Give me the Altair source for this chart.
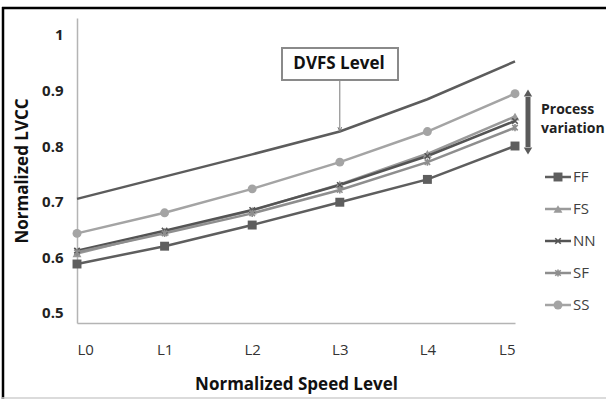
import altair as alt
import pandas as pd

levels = ["L0", "L1", "L2", "L3", "L4", "L5"]
series_names = ["FF", "FS", "NN", "SF", "SS"]
FF = [0.588, 0.620, 0.658, 0.699, 0.740, 0.800]
FS = [0.607, 0.646, 0.684, 0.731, 0.786, 0.853]
NN = [0.612, 0.648, 0.685, 0.730, 0.782, 0.845]
SF = [0.609, 0.643, 0.679, 0.721, 0.771, 0.833]
SS = [0.643, 0.680, 0.723, 0.771, 0.826, 0.894]
DVFS = [0.705, 0.745, 0.785, 0.826, 0.884, 0.952]
y_ticks = [0.5, 0.6, 0.7, 0.8, 0.9, 1.0]

colors = {"FF": "#5e5e5e", "FS": "#9a9a9a", "NN": "#545454", "SF": "#8e8e8e",
          "SS": "#a4a4a4", "DVFS": "#5c5c5c"}
shapes = {"FF": "square", "FS": "triangle-up", "SS": "circle",
          "NN": "M-1,-1L1,1M-1,1L1,-1",
          "SF": "M-1,-1L1,1M-1,1L1,-1M0,-1.3L0,1.3"}
filled_series = ["FF", "FS", "SS"]

rows = []
for name, vals in zip(series_names + ["DVFS"], [FF, FS, NN, SF, SS, DVFS]):
    for i, v in enumerate(vals):
        rows.append({"series": name, "i": i, "v": v})
df = pd.DataFrame(rows)

W, H = 438, 305
LEFT, TOP = 77, 18
FONT = "Open Sans"

x_scale = alt.Scale(domain=[0, 5], nice=False, zero=False)
y_scale = alt.Scale(domain=[0.482, 1.03], nice=False, zero=False)
dom = list(colors.keys())
color_scale = alt.Scale(domain=dom, range=[colors[k] for k in dom])
shape_dom = list(shapes.keys())
shape_scale = alt.Scale(domain=shape_dom, range=[shapes[k] for k in shape_dom])

x_enc = alt.X("i:Q", scale=x_scale, axis=alt.Axis(
    values=[0, 1, 2, 3, 4, 5], labelExpr="'L' + datum.value", ticks=False, grid=False,
    domainColor="#b4b4b4", domainWidth=1.5, labelFontSize=15, labelColor="#333333",
    labelPadding=19, title="Normalized Speed Level", titleFontSize=17,
    titleFontWeight="bold", titleColor="#111111", titlePadding=19))
y_enc = alt.Y("v:Q", scale=y_scale, axis=alt.Axis(
    values=y_ticks, labelExpr="datum.value == 1 ? '1' : format(datum.value, '.1f')",
    ticks=False, grid=False, domainColor="#b4b4b4", domainWidth=1.5,
    labelFontSize=15, labelFontWeight="bold", labelColor="#222222", labelPadding=14,
    title="Normalized LVCC", titleFontSize=17, titleFontWeight="bold",
    titleColor="#111111", titlePadding=10))

base = alt.Chart(df)
lines = base.mark_line(strokeWidth=2.5).encode(
    x=x_enc, y=y_enc, color=alt.Color("series:N", scale=color_scale, legend=None),
    detail="series:N")

filled_pts = base.transform_filter(
    alt.FieldOneOfPredicate(field="series", oneOf=filled_series)
).mark_point(filled=True, size=80, opacity=1).encode(
    x="i:Q", y="v:Q",
    color=alt.Color("series:N", scale=color_scale, legend=None),
    shape=alt.Shape("series:N", scale=shape_scale, legend=None))

stroke_pts = base.transform_filter(
    alt.FieldOneOfPredicate(field="series", oneOf=["NN", "SF"])
).mark_point(filled=False, size=30, strokeWidth=1.6, opacity=1).encode(
    x="i:Q", y="v:Q",
    color=alt.Color("series:N", scale=color_scale, legend=None),
    shape=alt.Shape("series:N", scale=shape_scale, legend=None))

one = pd.DataFrame({"a": [0]})

# Manual legend (pixel space)
leg_layers = []
leg_y0, leg_dy = 177 - TOP, 32
for k, name in enumerate(series_names):
    ly = leg_y0 + k * leg_dy
    c = colors[name]
    leg_layers.append(alt.Chart(one).mark_rule(strokeWidth=2.5, color=c).encode(
        x=alt.value(545 - LEFT), x2=alt.value(571 - LEFT), y=alt.value(ly)))
    if name in filled_series:
        pt = alt.Chart(one).mark_point(filled=True, size=80, opacity=1, color=c,
                                       shape=shapes[name])
    else:
        pt = alt.Chart(one).mark_point(filled=False, size=30, strokeWidth=1.6,
                                       opacity=1, color=c, shape=shapes[name])
    leg_layers.append(pt.encode(x=alt.value(558 - LEFT), y=alt.value(ly)))
    leg_layers.append(alt.Chart(pd.DataFrame({"t": [name]})).mark_text(
        align="left", baseline="middle", fontSize=15, color="#404040", font=FONT
    ).encode(x=alt.value(573 - LEFT), y=alt.value(ly), text="t:N"))

# DVFS Level annotation box and arrow
dvfs_box = alt.Chart(one).mark_rect(
    fill="white", stroke="#8a8a8a", strokeWidth=2).encode(
    x=alt.value(282 - LEFT), x2=alt.value(398 - LEFT),
    y=alt.value(48 - TOP), y2=alt.value(80 - TOP))
dvfs_text = alt.Chart(pd.DataFrame({"t": ["DVFS Level"]})).mark_text(
    fontSize=17, fontWeight="bold", color="#111111", font=FONT,
    baseline="middle", align="center").encode(
    x=alt.value(339 - LEFT), y=alt.value(64 - TOP), text="t:N")
tip = pd.DataFrame({"i": [3], "v": [DVFS[3]]})
dvfs_arrow = alt.Chart(tip).mark_rule(color="#7a7a7a", strokeWidth=1).encode(
    x="i:Q", y="v:Q", y2=alt.value(80 - TOP))
dvfs_head = alt.Chart(tip).mark_point(
    shape="M-0.6,-1.4L0,0L0.6,-1.4", filled=False, size=40, color="#7a7a7a",
    strokeWidth=1, opacity=1).encode(x="i:Q", y="v:Q")

# Process variation arrow
pv_rule = alt.Chart(one).mark_rule(color="#5a5a5a", strokeWidth=5).encode(
    x=alt.value(528 - LEFT), y=alt.value(97 - TOP), y2=alt.value(147 - TOP))
pv_up = alt.Chart(one).mark_point(filled=True, size=70, color="#5a5a5a", opacity=1,
                                  shape="triangle-up").encode(
    x=alt.value(528 - LEFT), y=alt.value(93 - TOP))
pv_down = alt.Chart(one).mark_point(filled=True, size=70, color="#5a5a5a", opacity=1,
                                    shape="triangle-down").encode(
    x=alt.value(528 - LEFT), y=alt.value(151 - TOP))
pv_t1 = alt.Chart(pd.DataFrame({"t": ["Process"]})).mark_text(
    align="left", baseline="middle", fontSize=14, fontWeight="bold",
    color="#222222", font=FONT).encode(
    x=alt.value(541 - LEFT), y=alt.value(110 - TOP), text="t:N")
pv_t2 = alt.Chart(pd.DataFrame({"t": ["variation"]})).mark_text(
    align="left", baseline="middle", fontSize=14, fontWeight="bold",
    color="#222222", font=FONT).encode(
    x=alt.value(541 - LEFT), y=alt.value(129 - TOP), text="t:N")

# Outer frame
frame_top = alt.Chart(one).mark_rule(color="#000000", strokeWidth=2.5).encode(
    x=alt.value(2 - LEFT), x2=alt.value(606 - LEFT), y=alt.value(8 - TOP))
frame_left = alt.Chart(one).mark_rule(color="#000000", strokeWidth=2.5).encode(
    x=alt.value(3 - LEFT), y=alt.value(7 - TOP), y2=alt.value(399 - TOP))
frame_bottom = alt.Chart(one).mark_rule(color="#cfcfcf", strokeWidth=1.5).encode(
    x=alt.value(2 - LEFT), x2=alt.value(606 - LEFT), y=alt.value(398 - TOP))

chart = alt.layer(
    lines, filled_pts, stroke_pts,
    dvfs_arrow, dvfs_head, dvfs_box, dvfs_text,
    pv_rule, pv_up, pv_down, pv_t1, pv_t2,
    *leg_layers,
    frame_top, frame_left, frame_bottom,
).properties(
    width=W, height=H,
    autosize=alt.AutoSizeParams(type="none"),
    padding={"left": LEFT, "top": TOP, "right": 606 - LEFT - W, "bottom": 400 - TOP - H},
).configure(font=FONT, background="white").configure_view(stroke=None)

chart.save("out.html", embed_options={"renderer": "svg", "actions": False})
